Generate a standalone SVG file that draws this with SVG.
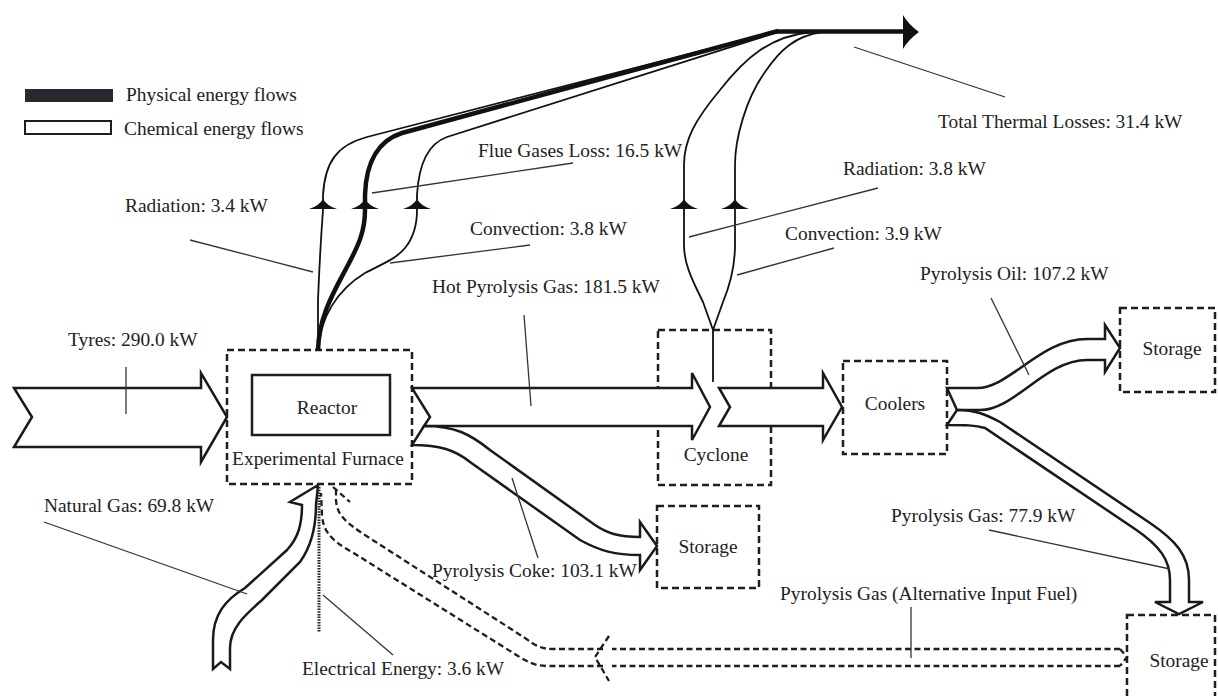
<svg xmlns="http://www.w3.org/2000/svg" width="1218" height="696" viewBox="0 0 1218 696">
<style>
.t{font-family:"Liberation Serif","Times New Roman",serif;font-size:19.4px;fill:#222}
.box{fill:none;stroke:#1e1e1e;stroke-width:2.5;stroke-dasharray:7 4}
.solid{fill:none;stroke:#1e1e1e;stroke-width:2.5}
.arr{fill:#fff;stroke:#1a1a1a;stroke-width:2.5;stroke-linejoin:miter}
.ld{fill:none;stroke:#333;stroke-width:1.3}
.fl{fill:none;stroke:#111;stroke-width:1.8}
.thick{fill:none;stroke:#111;stroke-width:4.5}
.ah{fill:#111}
.dsh{fill:none;stroke:#1e1e1e;stroke-width:2.3;stroke-dasharray:6 3.5}
.dot{fill:none;stroke:#222;stroke-width:3;stroke-dasharray:1.5 1.2}
</style>
<defs>
<path id="hd" d="M-14,209 Q-4,206 0,199 Q4,206 14,209 Z"/>
</defs>
<rect width="1218" height="696" fill="#fff"/>

<g id="legend">
<rect x="25" y="89" width="88" height="13" fill="#262a2e"/>
<rect x="25" y="121" width="86" height="13" fill="#fff" stroke="#1e1e1e" stroke-width="2"/>
<text class="t" x="126" y="101">Physical energy flows</text>
<text class="t" x="124" y="135">Chemical energy flows</text>
</g>

<g id="furnace">
<rect class="box" x="227" y="350" width="185" height="134"/>
<rect class="solid" x="252" y="375" width="138" height="60"/>
<text class="t" x="327" y="414" text-anchor="middle">Reactor</text>
<text class="t" x="318" y="465" text-anchor="middle">Experimental Furnace</text>
</g>

<g id="cyclone">
<rect class="box" x="658" y="330" width="113" height="155"/>
<text class="t" x="716" y="461" text-anchor="middle">Cyclone</text>
</g>

<g id="coolers">
<rect class="box" x="843" y="361" width="104" height="93"/>
<text class="t" x="895" y="410" text-anchor="middle">Coolers</text>
</g>

<g id="storage-coke">
<rect class="box" x="657" y="506" width="102" height="82"/>
<text class="t" x="708" y="553" text-anchor="middle">Storage</text>
</g>

<g id="storage-oil">
<rect class="box" x="1120" y="308" width="95" height="84"/>
<text class="t" x="1172" y="355" text-anchor="middle">Storage</text>
</g>

<g id="storage-gas">
<rect class="box" x="1127" y="615" width="88" height="90"/>
<text class="t" x="1179" y="667" text-anchor="middle">Storage</text>
</g>

<g id="connectors">
<path class="fl" d="M318,350 L318,300 Q320,250 323,210 L323,195 C325,162 337,145 367,137 L778,31"/>
<path class="thick" d="M318,350 C319,315 335,290 348,265 C358,246 365,232 365,210 L365,195 C366,160 380,140 402,133 L778,31"/>
<path class="fl" d="M318,350 C320,318 337,290 365,273 C382,264 396,259 405,248 C414,237 417,225 417,210 L417,195 C419,160 430,143 447,137 L778,32"/>
<path class="fl" d="M713,382 L713,330 L703,302 C690,276 684,262 684,245 L684,165 C684,140 695,120 720,90 C745,58 770,36 812,32"/>
<path class="fl" d="M713,330 L723,302 C730,285 735,265 735,245 L735,165 C735,140 745,100 765,72 C780,50 795,36 822,32"/>
<path class="thick" d="M776,31.5 L906,31.5" stroke-width="5.5"/>
<path class="ah" d="M903,15 Q908,24 919,32 Q908,40 903,49 Z"/>
<use href="#hd" x="323" class="ah"/>
<use href="#hd" x="365" class="ah"/>
<use href="#hd" x="417" class="ah"/>
<use href="#hd" x="684" class="ah"/>
<use href="#hd" x="735" class="ah"/>

<path class="arr" d="M14,388 L201,388 L201,373 L227,417 L201,462 L201,447 L14,447 L32,417 Z"/>
<path class="arr" d="M412,388 L692,388 L692,373 L710,407 L692,440 L692,426 L424,426 L430,417 Z"/>
<path class="arr" d="M424,426 C455,426 470,434 490,450 L595,525 C607,533 618,537 640,537 L640,522 L657,546 L640,570 L640,555 C615,555 600,551 580,540 L470,462 C455,450 440,445 412,445 Z"/>
<path class="arr" d="M719,388 L823,388 L823,373 L842,407 L823,440 L823,426 L719,426 L730,407 Z"/>
<path class="arr" d="M947,388 L977,388 C1010,388 1040,339 1087,339 L1105,339 L1105,325 L1120,348 L1105,372 L1105,360 L1087,360 C1045,360 1015,410 980,410 L957,410 Z"/>
<path class="arr" d="M957,410 C975,410 985,414 1000,422 L1150,523 C1175,540 1189,555 1189,580 L1189,602 L1203,602 L1179,614 L1155,602 L1170,602 L1170,580 C1170,560 1160,546 1135,529 L985,428 C975,425 965,425 947,425 Z"/>
<path class="arr" d="M318,485 L316,505 C316,530 310,548 300,562 L262,600 C245,615 230,628 230,648 L230,669 L221,662 L213,669 L213,640 C213,615 225,600 245,588 L287,550 C298,538 302,525 302,505 L290,502 Z"/>
<path class="dot" d="M319,487 L319,632"/>
<path class="dsh" d="M1120,649 L1127,657 L1120,666"/>
<path class="dsh" d="M1120,649 L612,649"/>
<path class="dsh" d="M1120,666 L612,666"/>
<path class="dsh" d="M609,636 L595,657 L609,681"/>
<path class="dsh" d="M603,649 L553,649 C540,649 535,645 525,638 L368,537 C345,522 337,515 336,500 L336,490"/>
<path class="dsh" d="M603,666 L547,666 C535,666 528,662 518,656 L352,552 C330,540 323,530 322,515 L321,493"/>
<path class="dsh" d="M333,487 L350,502"/>
</g>

<g id="labels">
<text class="t" x="125" y="212">Radiation: 3.4 kW</text>
<path class="ld" d="M190,240 L313,272"/>
<text class="t" x="478" y="157">Flue Gases Loss: 16.5 kW</text>
<path class="ld" d="M573,163 L372,193"/>
<text class="t" x="470" y="235">Convection: 3.8 kW</text>
<path class="ld" d="M530,245 L390,263"/>
<text class="t" x="432" y="293">Hot Pyrolysis Gas: 181.5 kW</text>
<path class="ld" d="M524,315 L531,406"/>
<text class="t" x="938" y="128">Total Thermal Losses: 31.4 kW</text>
<path class="ld" d="M854,47 L1005,97"/>
<text class="t" x="843" y="175">Radiation: 3.8 kW</text>
<path class="ld" d="M878,188 L689,237"/>
<text class="t" x="785" y="240">Convection: 3.9 kW</text>
<path class="ld" d="M834,248 L737,275"/>
<text class="t" x="920" y="280">Pyrolysis Oil: 107.2 kW</text>
<path class="ld" d="M991,298 L1029,375"/>
<text class="t" x="68" y="346">Tyres: 290.0 kW</text>
<path class="ld" d="M126,367 L126,414"/>
<text class="t" x="44" y="512">Natural Gas: 69.8 kW</text>
<path class="ld" d="M44,522 L247,594"/>
<text class="t" x="432" y="577">Pyrolysis Coke: 103.1 kW</text>
<path class="ld" d="M512,478 L538,558"/>
<text class="t" x="302" y="675">Electrical Energy: 3.6 kW</text>
<path class="ld" d="M323,595 L393,655"/>
<text class="t" x="891" y="522">Pyrolysis Gas: 77.9 kW</text>
<path class="ld" d="M989,530 L1170,569"/>
<text class="t" x="780" y="600">Pyrolysis Gas (Alternative Input Fuel)</text>
<path class="ld" d="M911,607 L911,658"/>
</g>
</svg>
